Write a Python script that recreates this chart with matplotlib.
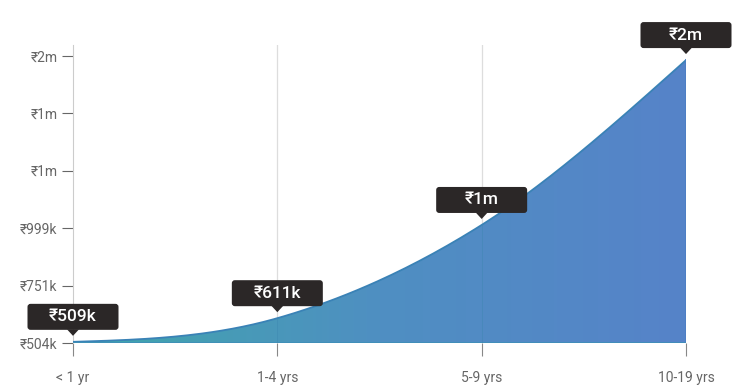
import numpy as np
import matplotlib
matplotlib.use("Agg")
import matplotlib.pyplot as plt
from matplotlib.patches import FancyBboxPatch, Polygon
from matplotlib.colors import LinearSegmentedColormap

plt.rcParams['font.family'] = ['Roboto', 'Noto Sans', 'DejaVu Sans']

categories = ['< 1 yr', '1-4 yrs', '5-9 yrs', '10-19 yrs']
values = [509, 611, 1013, 1724]          # thousands of rupees
point_labels = ['₹509k', '₹611k', '₹1m', '₹2m']
ytick_vals = [504, 751.6, 999.2, 1246.8, 1494.4, 1742]
ytick_labels = ['₹504k', '₹751k', '₹999k', '₹1m', '₹1m', '₹2m']

W, H = 740, 391
fig = plt.figure(figsize=(W / 100, H / 100), dpi=100)
ax = fig.add_axes([73 / W, (H - 343) / H, (686 - 73) / W, (343 - 45) / H])
ax.set_xlim(0, 3)
ax.set_ylim(504, 1789)

x = np.arange(len(values), dtype=float)
y = np.array(values, dtype=float)

# monotone cubic hermite, only to draw the smooth line between the points
def monotone(xs, ys, n=60):
    d = np.diff(ys) / np.diff(xs)
    m = np.zeros_like(ys)
    for i in range(1, len(ys) - 1):
        m[i] = (d[i - 1] + d[i]) / 2 if d[i - 1] * d[i] > 0 else 0
    m[0] = 1.5 * d[0] - 0.5 * m[1]
    m[-1] = 1.5 * d[-1] - 0.5 * m[-2]
    px, py = [], []
    t = np.linspace(0, 1, n)
    for i in range(len(ys) - 1):
        h = xs[i + 1] - xs[i]
        h00 = 2 * t**3 - 3 * t**2 + 1
        h10 = t**3 - 2 * t**2 + t
        h01 = -2 * t**3 + 3 * t**2
        h11 = t**3 - t**2
        px.append(xs[i] + t * h)
        py.append(h00 * ys[i] + h10 * h * m[i] + h01 * ys[i + 1] + h11 * h * m[i + 1])
    return np.concatenate(px), np.concatenate(py)

cx, cy = monotone(x, y)

verts = np.column_stack([np.r_[cx, 3, 0], np.r_[cy, 504, 504]])
poly = Polygon(verts, closed=True, facecolor='none', edgecolor='none')
ax.add_patch(poly)
cmap = LinearSegmentedColormap.from_list('g', ['#3fa7ab', '#4f8fc2', '#5683c9'])
grad = np.linspace(0, 1, 256).reshape(1, -1)
im = ax.imshow(grad, extent=[0, 3, 504, 1789], aspect='auto', cmap=cmap, origin='lower', zorder=2)
im.set_clip_path(poly)
ax.plot(cx, cy, color='#3a82b6', lw=1.3, zorder=3)
ax.plot([3, 3], [cy[-1], 504], color='#4d7fc4', lw=1.2, zorder=3)
ax.plot([0, 3], [504, 504], color='#3f8fb8', lw=1.2, zorder=3)

for xi in [1, 2]:
    ax.axvline(xi, color='#dddddd', lw=0.9, zorder=1)
    ax.axvline(xi, ymin=0, ymax=(y[xi] - 504) / (1789 - 504), color='#3d86b0', lw=0.6, alpha=0.5, zorder=3)

for s in ['top', 'right', 'bottom']:
    ax.spines[s].set_visible(False)
ax.spines['left'].set_color('#cccccc')
ax.spines['left'].set_bounds(504, 1789)

ax.set_xticks(x)
ax.set_xticklabels(categories, fontsize=10, color='#666666')
ax.tick_params(axis='x', length=9, color='#888888', pad=11)
ax.set_yticks(ytick_vals)
ax.set_yticklabels(ytick_labels, fontsize=10, color='#666666')
ax.tick_params(axis='y', length=8, color='#666666', pad=3)
ax.set_zorder(1)

fig.canvas.draw()
for xi, yi, lab in zip(x, y, point_labels):
    px, py = ax.transData.transform((xi, yi))
    bw, bh = 91, 26
    bottom = py + 12
    box = FancyBboxPatch((px - bw / 2, bottom), bw, bh, boxstyle='round,pad=0,rounding_size=3',
                         transform=None, facecolor='#2b2727', edgecolor='none', zorder=10)
    fig.patches.append(box)
    tri = Polygon([[px - 6, bottom + 0.5], [px + 6, bottom + 0.5], [px, bottom - 6]], closed=True,
                  transform=None, facecolor='#2b2727', edgecolor='none', zorder=10)
    fig.patches.append(tri)
    fig.text(px / W, (bottom + bh / 2) / H, lab, ha='center', va='center', color='white',
             fontsize=12.5, fontweight='medium', zorder=11)

fig.savefig('out.png', dpi=100)
